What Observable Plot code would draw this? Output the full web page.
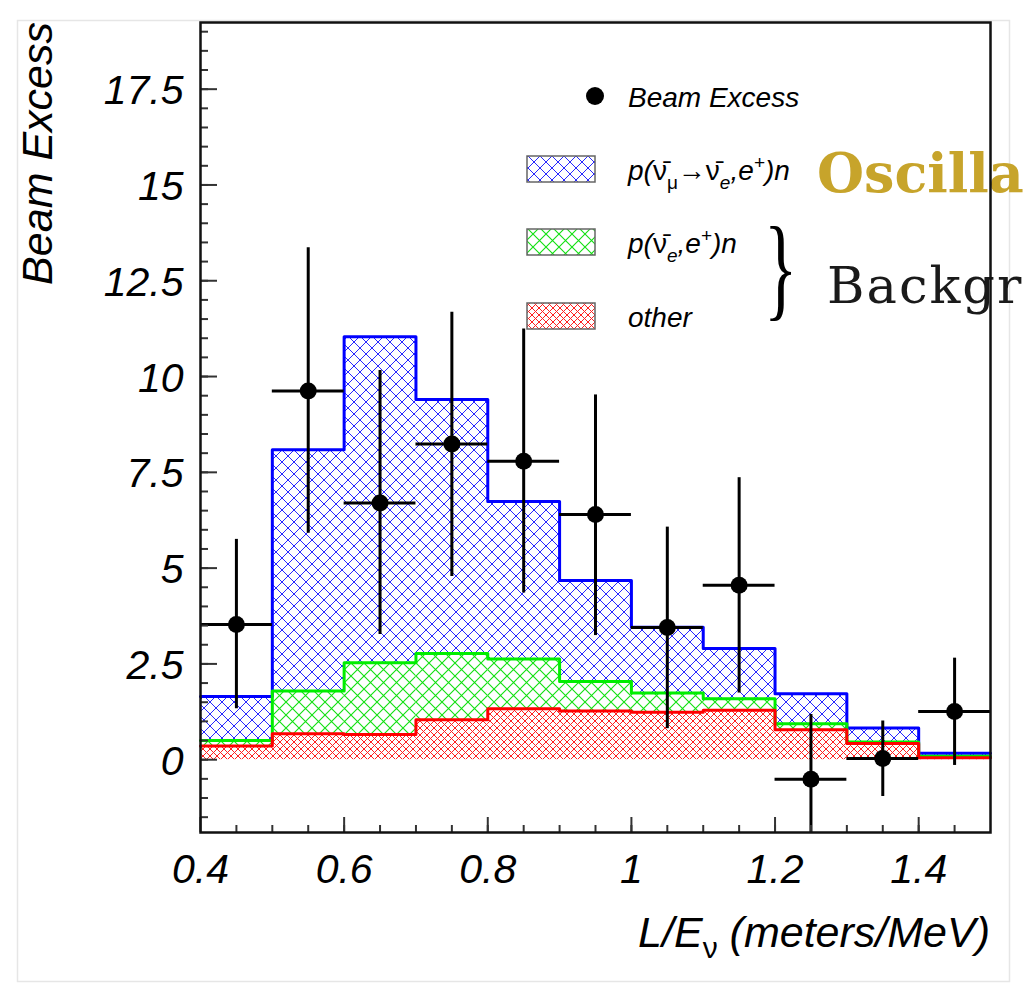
<!DOCTYPE html>
<html>
<head>
<meta charset="utf-8">
<script src="https://cdn.jsdelivr.net/npm/d3@7"></script>
<script src="https://cdn.jsdelivr.net/npm/@observablehq/plot@0.6"></script>
<style>
  html, body { margin: 0; padding: 0; background: white; overflow: hidden; }
  #chart { position: relative; width: 1026px; height: 984px; overflow: hidden; }
</style>
</head>
<body>
<div id="chart"></div>
<script>
// ---- data ----
const binLow = [0.4, 0.5, 0.6, 0.7, 0.8, 0.9, 1.0, 1.1, 1.2, 1.3, 1.4];
const binWidth = 0.1;
const xMax = 1.5;
// stacked components (bottom to top)
const other   = [0.36, 0.68, 0.66, 1.04, 1.33, 1.27, 1.24, 1.29, 0.78, 0.42, 0.05];
const nueBkg  = [0.14, 1.11, 1.87, 1.73, 1.30, 0.77, 0.50, 0.30, 0.16, 0.04, 0.04];
const oscSig  = [1.15, 6.30, 8.51, 6.63, 4.11, 2.64, 1.72, 1.31, 0.78, 0.37, 0.08];
// beam excess points with asymmetric error bars
const excess  = [3.53, 9.62, 6.70, 8.24, 7.79, 6.40, 3.45, 4.55, -0.51, 0.03, 1.26];
const errHigh = [5.75, 13.36, 10.16, 11.68, 11.24, 9.52, 6.07, 7.36, 1.18, 1.01, 2.65];
const errLow  = [1.33, 5.91, 3.27, 4.78, 4.35, 3.24, 0.81, 1.74, -2.3, -0.96, -0.15];
// axes
const xDomain = [0.4, 1.5];
const yDomain = [-1.9, 19.24];
const xTicks = [0.4, 0.6, 0.8, 1, 1.2, 1.4];
const xTickLabels = ["0.4", "0.6", "0.8", "1", "1.2", "1.4"];
const yTicks = [0, 2.5, 5, 7.5, 10, 12.5, 15, 17.5];
const yTickLabels = ["0", "2.5", "5", "7.5", "10", "12.5", "15", "17.5"];
const xMinor = d3.range(9, 30).map(i => i * 0.05);
const yMinor = d3.range(-3, 39).map(i => i * 0.5);
const yTitle = "Beam Excess";
const legendLabels = ["Beam Excess", "p(ν̄μ→ν̄e,e+)n", "p(ν̄e,e+)n", "other"];
// slide annotations (as visible in the cropped reference)
const oscText = "Oscilla";
const bkgText = "Backgr";

// ---- derived tables ----
const bins = binLow.map((x, i) => {
  const r = other[i], g = r + nueBkg[i], b = g + oscSig[i];
  return {x1: x, x2: x + binWidth, xc: x + binWidth / 2, r, g, b,
          v: excess[i], hi: errHigh[i], lo: errLow[i]};
});
const stepOf = key => bins.map(d => ({x: d.x1, y: d[key]}))
  .concat([{x: xMax, y: bins[bins.length - 1][key]}]);

const FONT = "Liberation Sans, Arial, Helvetica, sans-serif";

function defs() {
  const d = d3.create("svg:defs");
  const pat = (id, size, color, sw) => {
    const p = d.append("pattern").attr("id", id).attr("patternUnits", "userSpaceOnUse")
      .attr("width", size).attr("height", size);
    p.append("rect").attr("width", size).attr("height", size).attr("fill", "white");
    p.append("path").attr("d", `M-1,-1L${size+1},${size+1}M${size+1},-1L-1,${size+1}`)
      .attr("stroke", color).attr("stroke-width", sw).attr("fill", "none");
  };
  pat("hatchBlue", 12, "#2828ff", 1);
  pat("hatchGreen", 13, "#10e010", 1.1);
  pat("hatchRed", 7, "#ff2020", 1);
  return d.node();
}

function annotations(index, scales, values, dims) {
  const L = dims.marginLeft, T = dims.marginTop;
  const R = dims.width - dims.marginRight, B = dims.height - dims.marginBottom;
  const g = d3.create("svg:g").attr("font-family", FONT).attr("text-anchor", "start");
  // page border
  g.append("rect").attr("x", 17.5).attr("y", 20.5).attr("width", 992).attr("height", 961)
    .attr("fill", "none").attr("stroke", "#e6e6e6").attr("stroke-width", 1.5);
  // y title
  g.append("text").attr("transform", `translate(${L - 148},${T}) rotate(-90)`)
    .attr("text-anchor", "end").attr("font-size", 43).attr("font-style", "italic")
    .attr("fill", "black").text(yTitle);
  // x title with subscript nu
  const xt = g.append("text").attr("x", R).attr("y", B + 115).attr("text-anchor", "end")
    .attr("font-size", 43).attr("font-style", "italic").attr("fill", "black");
  xt.append("tspan").text("L/E");
  xt.append("tspan").attr("font-size", 30).attr("dy", 11).attr("font-style", "normal").text("ν");
  xt.append("tspan").attr("dy", -11).text(" (meters/MeV)");
  // legend
  const rows = [96, 169, 242, 316];
  const lx = 628;
  g.append("circle").attr("cx", 595).attr("cy", rows[0]).attr("r", 9).attr("fill", "black");
  [["hatchBlue", rows[1]], ["hatchGreen", rows[2]], ["hatchRed", rows[3]]].forEach(([id, cy]) => {
    g.append("rect").attr("x", 527).attr("y", cy - 13).attr("width", 68).attr("height", 26)
      .attr("fill", `url(#${id})`).attr("stroke", "#666").attr("stroke-width", 1.5);
  });
  const lt = (y) => g.append("text").attr("x", lx).attr("y", y).attr("font-size", 28)
    .attr("font-style", "italic").attr("fill", "black");
  lt(rows[0] + 11).text(legendLabels[0]);
  const t1 = lt(rows[1] + 11);
  t1.append("tspan").text("p(");
  t1.append("tspan").attr("font-style", "normal").text("ν̄");
  t1.append("tspan").attr("font-size", 19).attr("dy", 9).attr("font-style", "normal").text("μ");
  t1.append("tspan").attr("dy", -9).attr("font-style", "normal").text("→ν̄");
  t1.append("tspan").attr("font-size", 19).attr("dy", 9).text("e");
  t1.append("tspan").attr("dy", -9).text(",e");
  t1.append("tspan").attr("font-size", 19).attr("dy", -11).text("+");
  t1.append("tspan").attr("dy", 11).text(")n");
  const t2 = lt(rows[2] + 11);
  t2.append("tspan").text("p(");
  t2.append("tspan").attr("font-style", "normal").text("ν̄");
  t2.append("tspan").attr("font-size", 19).attr("dy", 9).text("e");
  t2.append("tspan").attr("dy", -9).text(",e");
  t2.append("tspan").attr("font-size", 19).attr("dy", -11).text("+");
  t2.append("tspan").attr("dy", 11).text(")n");
  lt(rows[3] + 11).text(legendLabels[3]);
  // brace and slide annotations
  g.append("text").attr("transform", "translate(764,306) scale(0.62,1.03)")
    .attr("font-family", "Liberation Serif, Times New Roman, serif").attr("font-size", 112)
    .attr("fill", "black").text("}");
  g.append("text").attr("x", 817).attr("y", 192)
    .attr("font-family", "DejaVu Serif, serif").attr("font-weight", "bold").attr("font-size", 54)
    .attr("fill", "#c7a42b").text(oscText);
  g.append("text").attr("x", 827).attr("y", 303)
    .attr("font-family", "DejaVu Serif, serif").attr("font-size", 51).attr("letter-spacing", 2)
    .attr("fill", "#1a1a1a").text(bkgText);
  return g.node();
}

const tickStroke = {stroke: "#333", strokeWidth: 2};

const plot = Plot.plot({
  width: 1026,
  height: 984,
  marginLeft: 200,
  marginRight: 36,
  marginTop: 22,
  marginBottom: 152,
  style: {fontFamily: FONT, background: "white", overflow: "hidden"},
  x: {domain: xDomain},
  y: {domain: yDomain},
  marks: [
    defs,
    annotations,
    // stacked bands
    Plot.rectY(bins, {x1: "x1", x2: "x2", y1: 0, y2: "r", fill: "url(#hatchRed)"}),
    Plot.rectY(bins, {x1: "x1", x2: "x2", y1: "r", y2: "g", fill: "url(#hatchGreen)"}),
    Plot.rectY(bins, {x1: "x1", x2: "x2", y1: "g", y2: "b", fill: "url(#hatchBlue)"}),
    // outlines
    Plot.line(stepOf("b"), {x: "x", y: "y", curve: "step-after", stroke: "#0000ff", strokeWidth: 3}),
    Plot.line(stepOf("g"), {x: "x", y: "y", curve: "step-after", stroke: "#00ee00", strokeWidth: 3}),
    Plot.line(stepOf("r"), {x: "x", y: "y", curve: "step-after", stroke: "#ff0000", strokeWidth: 3}),
    // beam excess
    Plot.ruleX(bins, {x: "xc", y1: "lo", y2: "hi", stroke: "black", strokeWidth: 3, clip: true}),
    Plot.ruleY(bins, {y: "v", x1: "x1", x2: "x2", stroke: "black", strokeWidth: 3, clip: true}),
    Plot.dot(bins, {x: "xc", y: "v", r: 8.5, fill: "black", stroke: "none"}),
    // ticks (inward)
    Plot.axisY(yMinor, {anchor: "left", tickSize: -8, tickFormat: () => "", label: null, ...tickStroke}),
    Plot.axisY(yTicks, {anchor: "left", tickSize: -17, tickFormat: () => "", label: null, ...tickStroke}),
    Plot.axisX(xMinor, {anchor: "bottom", tickSize: -7, tickFormat: () => "", label: null, ...tickStroke}),
    Plot.axisX(xTicks, {anchor: "bottom", tickSize: -15, tickFormat: () => "", label: null, ...tickStroke}),
    // tick labels
    Plot.axisY(yTicks, {anchor: "left", tickSize: 0, tickPadding: 17, dy: 2, fontSize: 41, fontStyle: "italic",
      fill: "black", tickFormat: d => yTickLabels[yTicks.indexOf(d)], label: null}),
    Plot.axisX(xTicks, {anchor: "bottom", tickSize: 0, tickPadding: 21, fontSize: 41, fontStyle: "italic",
      fill: "black", tickFormat: d => xTickLabels[xTicks.indexOf(d)], label: null}),
    Plot.frame({stroke: "#111", strokeWidth: 2.5})
  ]
});
document.getElementById("chart").appendChild(plot);
</script>
</body>
</html>
